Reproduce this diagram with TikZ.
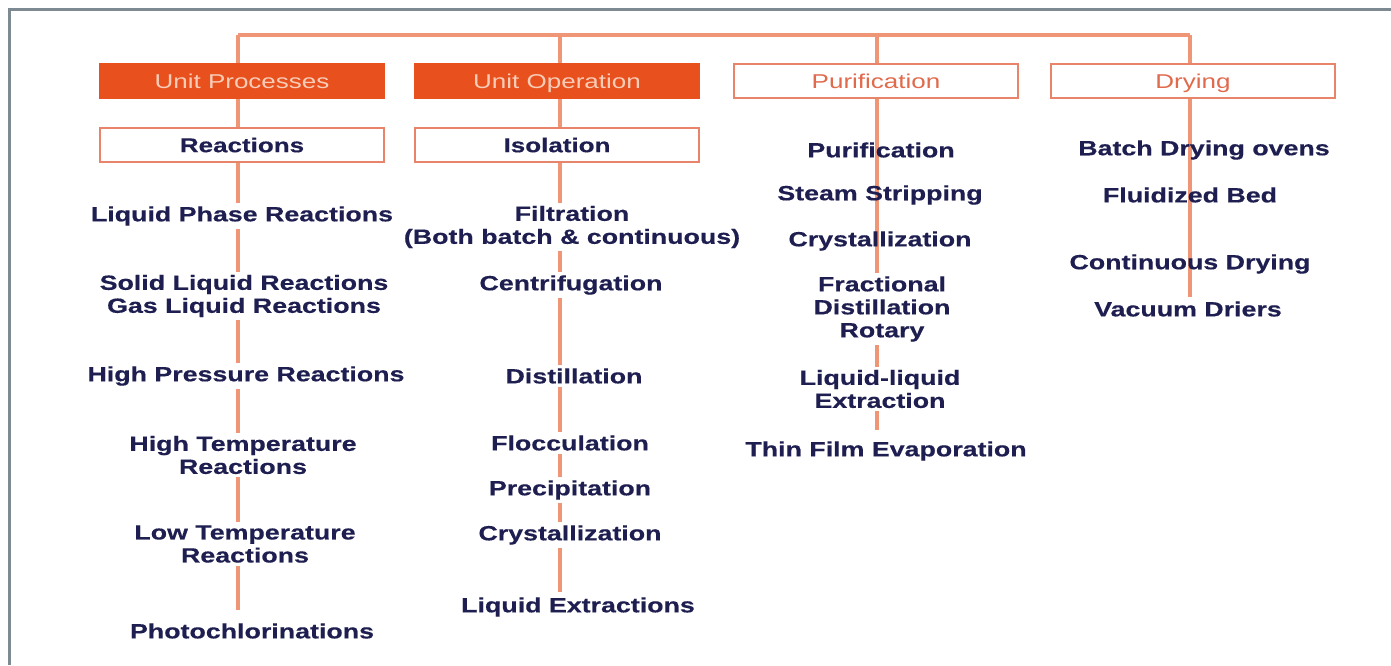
\documentclass[tikz,border=0pt]{standalone}
\usepackage{fontspec}
\setmainfont{Liberation Sans}[FakeStretch=1.3, BoldFeatures={FakeBold=0.4}]
\usetikzlibrary{backgrounds}

\definecolor{navy}{HTML}{1E1E50}
\definecolor{orgfill}{HTML}{E8501E}
\definecolor{orgline}{HTML}{E8846A}
\definecolor{orgtext}{HTML}{E06A4C}
\definecolor{paletext}{HTML}{F8CDB8}
\definecolor{linkcol}{HTML}{EE9676}
\definecolor{framecol}{HTML}{7E8A92}

\tikzset{
  hdbase/.style={minimum width=142pt, minimum height=17pt, inner sep=0pt,
    text height=8pt, text depth=0.8pt,
    line width=1.35pt, font=\fontsize{10}{12}\selectfont},
  hdsolid/.style={hdbase, fill=orgfill, draw=orgfill, text=paletext},
  hdopen/.style={hdbase, fill=white, draw=orgline, text=orgtext},
  subbox/.style={hdbase, fill=white, draw=orgline, text=navy,
    font=\fontsize{10}{12}\selectfont\bfseries},
  item/.style={text=navy, align=center, inner sep=1.5pt, fill=white,
    font=\fontsize{10.3}{11.5}\selectfont\bfseries},
  itemclear/.style={item, fill=none},
  link/.style={draw=linkcol, line width=1.8pt},
  frame/.style={draw=framecol, line width=1.5pt}
}

\begin{document}
\begin{tikzpicture}[x=0.5pt, y=-0.5pt]
  \useasboundingbox (0,0) rectangle (1391,665);

  % outer frame (top and left edges)
  \coordinate (fbl) at (9,665);
  \coordinate (ftl) at (9,9);
  \coordinate (ftr) at (1391,9);
  \draw[frame] (fbl) -- (ftl) -- (ftr);

  % top bus
  \coordinate (t1) at (238,35);
  \coordinate (t2) at (560,35);
  \coordinate (t3) at (877,35);
  \coordinate (t4) at (1190,35);
  \coordinate (e1) at (238,610);
  \coordinate (e2) at (560,592);
  \coordinate (e3) at (877,430);
  \coordinate (e4) at (1190,297);

  % column headers
  \node[hdsolid] (h1) at (242,81) {Unit Processes};
  \node[hdsolid] (h2) at (557,81) {Unit Operation};
  \node[hdopen]  (h3) at (876,81) {Purification};
  \node[hdopen]  (h4) at (1193,81) {Drying};

  \node[subbox] (s1) at (242,145) {Reactions};
  \node[subbox] (s2) at (557,145) {Isolation};

  % unit processes
  \node[item] (r1) at (242,216) {Liquid Phase Reactions};
  \node[item] (r2) at (244,296) {Solid Liquid Reactions\\Gas Liquid Reactions};
  \node[item] (r3) at (246,376) {High Pressure Reactions};
  \node[item] (r4) at (243,455) {High Temperature\\Reactions};
  \node[item] (r5) at (245,544) {Low Temperature\\Reactions};
  \node[item] (r6) at (252,631) {Photochlorinations};

  % unit operations
  \node[item] (o1) at (572,227) {Filtration\\(Both batch \& continuous)};
  \node[item] (o2) at (571,285) {Centrifugation};
  \node[item] (o3) at (574,376) {Distillation};
  \node[item] (o4) at (570,443) {Flocculation};
  \node[item] (o5) at (570,490) {Precipitation};
  \node[item] (o6) at (570,535) {Crystallization};
  \node[item] (o7) at (578,607) {Liquid Extractions};

  % purification
  \node[itemclear] (p1) at (881,150) {Purification};
  \node[itemclear] (p2) at (880,195) {Steam Stripping};
  \node[itemclear] (p3) at (880,241) {Crystallization};
  \node[item]      (p4) at (882,309) {Fractional\\Distillation\\Rotary};
  \node[item]      (p5) at (880,389) {Liquid-liquid\\Extraction};
  \node[item]      (p6) at (886,451) {Thin Film Evaporation};

  % drying
  \node[itemclear] (d1) at (1204,150) {Batch Drying ovens};
  \node[itemclear] (d2) at (1190,195) {Fluidized Bed};
  \node[itemclear] (d3) at (1190,264) {Continuous Drying};
  \node[itemclear] (d4) at (1188,309) {Vacuum Driers};

  \begin{pgfonlayer}{background}
    \fill[white] (0,0) rectangle (1391,665);
    \draw[link] (t1) -- (t4);
    \draw[link] (t1) -- (e1);
    \draw[link] (t2) -- (e2);
    \draw[link] (t3) -- (e3);
    \draw[link] (t4) -- (e4);
  \end{pgfonlayer}
\end{tikzpicture}
\end{document}
